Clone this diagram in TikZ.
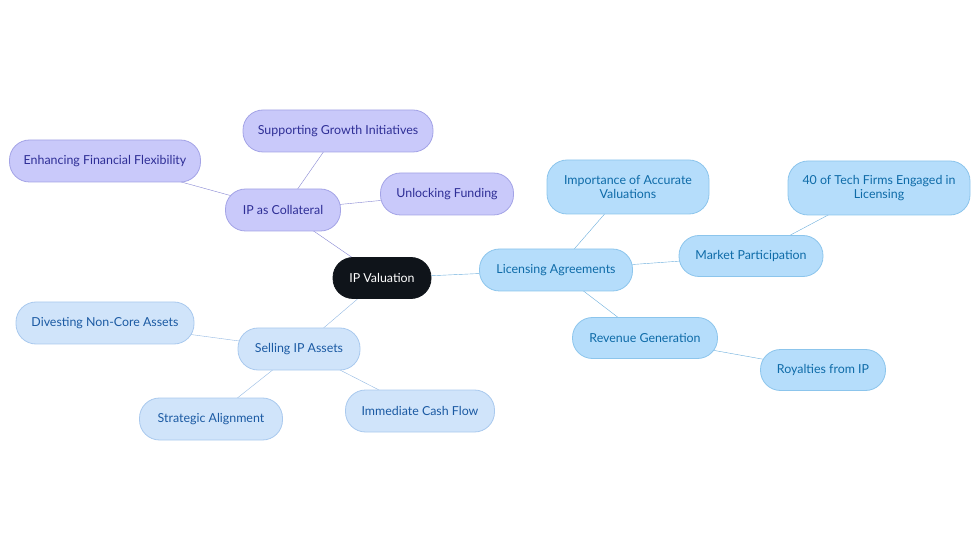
\documentclass[tikz,border=0pt]{standalone}
\usepackage{fontspec}
\setmainfont{Lato}
\usetikzlibrary{backgrounds}
\definecolor{rootfill}{HTML}{0F141A}
\definecolor{colfill}{HTML}{C9C9FA}
\definecolor{coldraw}{HTML}{A3A3E6}
\definecolor{coltext}{HTML}{2E2E96}
\definecolor{colline}{HTML}{8585D3}
\definecolor{licfill}{HTML}{B5DDFB}
\definecolor{licdraw}{HTML}{8CC5EC}
\definecolor{lictext}{HTML}{0E6BA8}
\definecolor{licline}{HTML}{6BAEDC}
\definecolor{selfill}{HTML}{D0E4FA}
\definecolor{seldraw}{HTML}{A9C9EE}
\definecolor{seltext}{HTML}{1B5AA3}
\definecolor{selline}{HTML}{93B9E2}
\tikzset{
  mind/.style={rounded corners=20pt, minimum height=42pt, inner sep=2pt, align=center, font=\fontsize{12.4}{13.5}\selectfont, line width=0.8pt},
  root/.style={mind, fill=rootfill, draw=rootfill, text=white},
  colnode/.style={mind, fill=colfill, draw=coldraw, text=coltext},
  licnode/.style={mind, fill=licfill, draw=licdraw, text=lictext},
  selnode/.style={mind, fill=selfill, draw=seldraw, text=seltext}
}
\begin{document}
\begin{tikzpicture}[x=1pt, y=-1pt]
  \useasboundingbox (0,0) rectangle (980,553);
  % centre
  \node[root, minimum width=98pt, minimum height=41pt] (ipv) at (382,278) {IP Valuation};
  % licensing branch
  \node[licnode, minimum width=153pt] (lic) at (556,270) {Licensing Agreements};
  \node[licnode, minimum width=162pt, minimum height=54pt] (imp) at (628,187) {Importance of Accurate\\Valuations};
  \node[licnode, minimum width=144pt, minimum height=41pt] (mkt) at (751,256) {Market Participation};
  \node[licnode, minimum width=182pt, minimum height=54pt] (tech) at (879,188) {40 of Tech Firms Engaged in\\Licensing};
  \node[licnode, minimum width=145pt, minimum height=41pt] (rev) at (645,338) {Revenue Generation};
  \node[licnode, minimum width=125pt, minimum height=41pt] (roy) at (823,370) {Royalties from IP};
  % collateral branch
  \node[colnode, minimum width=115pt] (col) at (283,210) {IP as Collateral};
  \node[colnode, minimum width=190pt] (grow) at (338,131) {Supporting Growth Initiatives};
  \node[colnode, minimum width=191pt] (flex) at (105,161) {Enhancing Financial Flexibility};
  \node[colnode, minimum width=133pt] (fund) at (447,194) {Unlocking Funding};
  % selling branch
  \node[selnode, minimum width=122pt] (sell) at (299,349) {Selling IP Assets};
  \node[selnode, minimum width=178pt] (div) at (105,323) {Divesting Non-Core Assets};
  \node[selnode, minimum width=143pt] (strat) at (211,419) {Strategic Alignment};
  \node[selnode, minimum width=149pt] (cash) at (420,411) {Immediate Cash Flow};
  % links
  \begin{scope}[on background layer, line width=1.7pt]
    \draw[licline] (ipv.center) -- (lic.center);
    \draw[licline] (lic.center) -- (imp.center);
    \draw[licline] (lic.center) -- (mkt.center);
    \draw[licline] (mkt.center) -- (tech.center);
    \draw[licline] (lic.center) -- (rev.center);
    \draw[licline] (rev.center) -- (roy.center);
    \draw[colline] (ipv.center) -- (col.center);
    \draw[colline] (col.center) -- (grow.center);
    \draw[colline] (col.center) -- (flex.center);
    \draw[colline] (col.center) -- (fund.center);
    \draw[selline] (ipv.center) -- (sell.center);
    \draw[selline] (sell.center) -- (div.center);
    \draw[selline] (sell.center) -- (strat.center);
    \draw[selline] (sell.center) -- (cash.center);
  \end{scope}
\end{tikzpicture}
\end{document}
